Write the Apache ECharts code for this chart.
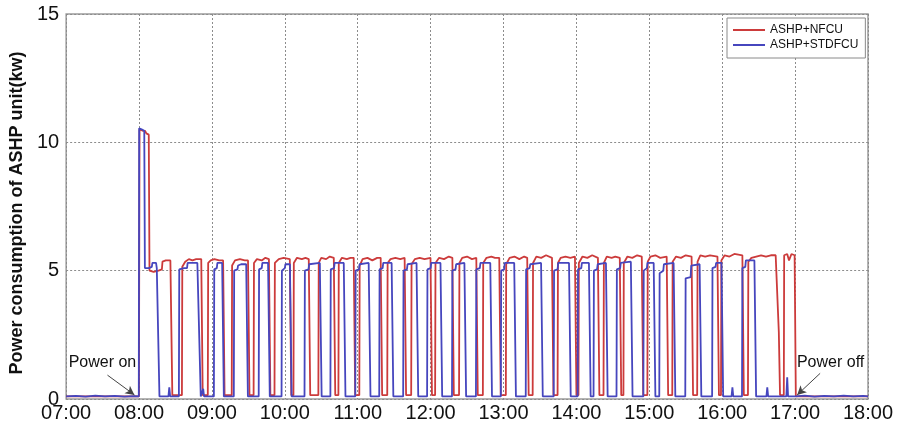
<!DOCTYPE html>
<html>
<head>
<meta charset="utf-8">
<script src="https://cdn.jsdelivr.net/npm/echarts@6/dist/echarts.min.js"></script>
<style>
  html, body { margin: 0; padding: 0; background: #fff; }
  #chart { width: 898px; height: 434px; }
</style>
</head>
<body>
<div id="chart"></div>
<script>
// Hour tick labels, one per 60 minutes from 07:00
const timeLabels = ['07:00', '08:00', '09:00', '10:00', '11:00', '12:00',
                    '13:00', '14:00', '15:00', '16:00', '17:00', '18:00'];
const powerTicks = [0, 5, 10, 15];

// ASHP+NFCU: [minutes after 07:00, kW]
const nfcuPoints = [
  [0, 0.1], [59.9, 0.1], [60.4, 10.5], [63, 10.45], [65, 10.45], [66, 10.35], [68, 10.3], [68.6, 5.0], [72, 4.95], [76, 5.0], [78.8, 5.05], [79.3, 5.35], [82, 5.4], [85.8, 5.4], [87.4, 0.15],
  [95.3, 0.15], [95.6, 5.15], [98, 5.35], [101, 5.45], [104, 5.4], [107, 5.45], [111.2, 5.45], [112.4, 0.15],
  [116.6, 0.15], [116.9, 5.3], [119, 5.4], [122, 5.45], [126, 5.4], [129.2, 5.4], [130.4, 0.15],
  [136.3, 0.15], [136.6, 5.2], [139, 5.4], [143, 5.45], [147, 5.4], [149.7, 5.4], [150.9, 0.15],
  [154.3, 0.15], [154.6, 5.3], [157, 5.45], [161, 5.4], [164, 5.5], [166.9, 5.45], [168.1, 0.15],
  [171.5, 0.15], [171.8, 5.3], [175, 5.45], [179, 5.5], [184.1, 5.45], [185.3, 0.15],
  [187.1, 0.15], [187.4, 5.3], [190, 5.5], [194, 5.45], [197, 5.5], [199.7, 5.45], [200.9, 0.15],
  [207.6, 0.15], [207.9, 5.3], [210, 5.5], [214, 5.45], [217, 5.55], [220.3, 5.5], [221.5, 0.15],
  [224.1, 0.15], [224.4, 5.3], [227, 5.5], [231, 5.45], [234, 5.5], [236.7, 5.5], [237.9, 0.15],
  [241.3, 0.15], [241.6, 5.2], [244, 5.45], [248, 5.5], [252, 5.4], [256, 5.5], [258.9, 5.5], [260.1, 0.15],
  [264.3, 0.15], [264.6, 5.3], [267, 5.45], [271, 5.5], [275, 5.45], [278.6, 5.5], [279.8, 0.15],
  [284, 0.15], [284.3, 5.25], [287, 5.45], [291, 5.5], [295, 5.45], [299.9, 5.5], [301.1, 0.15],
  [303.7, 0.15], [304, 5.3], [307, 5.5], [311, 5.45], [315, 5.55], [317.9, 5.5], [319.1, 0.15],
  [323.4, 0.15], [323.7, 5.3], [326, 5.5], [330, 5.55], [334, 5.45], [337.6, 5.5], [338.8, 0.15],
  [343, 0.15], [343.3, 5.3], [346, 5.5], [350, 5.55], [353, 5.5], [356.5, 5.5], [357.7, 0.15],
  [361.9, 0.15], [362.2, 5.25], [365, 5.5], [369, 5.55], [373, 5.45], [377, 5.55], [379.5, 5.5], [380.7, 0.15],
  [384, 0.15], [384.3, 5.3], [387, 5.55], [391, 5.5], [395, 5.6], [399.9, 5.5], [401.1, 0.15],
  [404.5, 0.15], [404.8, 5.3], [407, 5.5], [411, 5.55], [415, 5.5], [418.8, 5.55], [420, 0.15],
  [421.7, 0.15], [422, 5.3], [425, 5.55], [429, 5.5], [433, 5.6], [437.7, 5.5], [438.9, 0.15],
  [442.3, 0.15], [442.6, 5.3], [445, 5.55], [449, 5.5], [452, 5.55], [455.7, 5.5], [456.9, 0.15],
  [458.7, 0.15], [459, 5.3], [462, 5.55], [466, 5.5], [470, 5.6], [473.8, 5.55], [475, 0.15],
  [478.4, 0.15], [478.7, 5.35], [481, 5.55], [485, 5.6], [489, 5.5], [494.3, 5.55], [495.5, 0.15],
  [498.9, 0.15], [499.2, 5.35], [502, 5.55], [506, 5.5], [510, 5.6], [514.8, 5.55], [516, 0.15],
  [519.4, 0.15], [519.7, 5.35], [522, 5.6], [526, 5.55], [530, 5.6], [536.1, 5.55], [537.3, 0.15],
  [539, 0.15], [539.3, 5.4], [542, 5.6], [546, 5.55], [550, 5.65], [556.6, 5.6], [557.8, 0.15],
  [561.2, 0.15], [561.5, 5.35], [564, 5.5], [568, 5.55], [572, 5.6], [576, 5.55], [580, 5.6], [584, 5.6], [585.6, 5.55], [586.6, 2.6], [587.6, 0.15],
  [590.7, 0.15], [591, 5.6], [593.5, 5.65], [595, 5.4], [597, 5.65], [599.6, 5.6], [600.6, 0.1],
  [660, 0.1]
];

// ASHP+STDFCU: [minutes after 07:00, kW]
const stdPoints = [
  [0, 0.1], [8, 0.12], [16, 0.09], [24, 0.13], [32, 0.1], [40, 0.12], [48, 0.09], [56, 0.11], [59.8, 0.1],
  [60.1, 10.55], [62.5, 10.5], [64.3, 10.45], [64.8, 5.1], [68, 5.1], [70.5, 5.15], [71, 5.3], [74, 5.3], [74.6, 5.1], [76.8, 0.1],
  [84.2, 0.1], [84.9, 0.45], [85.6, 0.1],
  [92.8, 0.1], [93.1, 5.05], [97, 5.1], [99.5, 5.1], [100, 5.3], [108, 5.3], [109.5, 5.25], [110.8, 0.1],
  [112.1, 0.1], [112.8, 0.4], [113.5, 0.1],
  [121.6, 0.1], [121.9, 5.05], [124, 5.1], [124.5, 5.3], [128.4, 5.3], [129.8, 0.1],
  [138, 0.1], [138.3, 5.0], [141, 5.05], [141.5, 5.2], [144, 5.25], [148.2, 5.25], [149.6, 0.1],
  [158.5, 0.1], [158.8, 5.05], [161, 5.1], [161.5, 5.3], [166.2, 5.3], [167.6, 0.1],
  [177.3, 0.1], [177.6, 5.0], [180, 5.1], [180.5, 5.25], [184.2, 5.25], [185.6, 0.1],
  [196.2, 0.1], [196.5, 5.0], [199.5, 5.05], [200, 5.25], [208.8, 5.3], [210.3, 0.1],
  [217.5, 0.1], [217.8, 5.05], [220.5, 5.1], [221, 5.3], [228.5, 5.3], [229.9, 0.1],
  [238, 0.1], [238.3, 5.0], [241, 5.05], [241.5, 5.25], [249, 5.3], [250.5, 0.1],
  [257.7, 0.1], [258, 5.05], [260.5, 5.1], [261, 5.3], [267.9, 5.3], [269.3, 0.1],
  [277.4, 0.1], [277.7, 5.0], [280.5, 5.05], [281, 5.25], [288.4, 5.3], [289.8, 0.1],
  [297.1, 0.1], [297.4, 5.05], [300, 5.1], [300.5, 5.3], [308.1, 5.3], [309.5, 0.1],
  [317.6, 0.1], [317.9, 5.0], [320.5, 5.05], [321, 5.25], [327.8, 5.3], [329.2, 0.1],
  [337.3, 0.1], [337.6, 5.05], [340.5, 5.1], [341, 5.3], [349.1, 5.3], [350.5, 0.1],
  [357.8, 0.1], [358.1, 5.0], [360.5, 5.05], [361, 5.3], [368.8, 5.3], [370.2, 0.1],
  [378.3, 0.1], [378.6, 5.05], [381.5, 5.1], [382, 5.25], [390.9, 5.3], [392.3, 0.1],
  [401.3, 0.1], [401.6, 5.0], [404.5, 5.05], [405, 5.3], [413.9, 5.3], [415.3, 0.1],
  [421, 0.1], [421.3, 5.05], [424, 5.1], [424.5, 5.3], [430.3, 5.3], [431.7, 0.1],
  [434.1, 0.1], [434.4, 5.0], [437, 5.05], [437.5, 5.25], [444.3, 5.3], [445.7, 0.1],
  [453, 0.1], [453.3, 5.05], [456, 5.1], [456.5, 5.3], [464.8, 5.35], [466.2, 0.1],
  [475.1, 0.1], [475.4, 5.0], [478, 5.1], [478.5, 5.3], [483.6, 5.3], [485, 0.1],
  [488.2, 0.1], [488.5, 4.9], [491.5, 5.0], [492, 5.25], [500, 5.3], [501.4, 0.1],
  [509.6, 0.1], [509.9, 4.7], [514, 4.75], [514.5, 5.2], [521.4, 5.25], [522.8, 0.1],
  [531.7, 0.1], [532, 5.1], [534.5, 5.15], [535, 5.3], [539.4, 5.3], [540.8, 0.1],
  [547.7, 0.1], [548.4, 0.45], [549.1, 0.1],
  [556.3, 0.1], [556.6, 5.1], [559, 5.15], [559.5, 5.4], [566.5, 5.4], [567.9, 0.1],
  [576.4, 0.1], [577.1, 0.45], [577.8, 0.1],
  [592.8, 0.1], [593.5, 0.85], [594.2, 0.1],
  [600, 0.1], [608, 0.13], [616, 0.09], [624, 0.12], [632, 0.1], [640, 0.13], [648, 0.1], [656, 0.12], [660, 0.1]
];

// Start/stop annotations: text anchor and arrow from -> to, in data coordinates
const powerOnNote = { text: 'Power on', at: [29.9, 1.42], from: [34, 0.93], to: [56.2, 0.16] };
const powerOffNote = { text: 'Power off', at: [629.2, 1.42], from: [620.6, 1.0], to: [601.7, 0.16] };

const FONT = '"Liberation Sans", Arial, Helvetica, sans-serif';
const RED = '#cc3b3b';
const BLUE = '#4646be';

const chart = echarts.init(document.getElementById('chart'), null, { renderer: 'canvas' });

function noteLabel(note) {
  return {
    coord: note.at,
    symbol: 'rect',
    symbolSize: 1,
    itemStyle: { color: 'rgba(0,0,0,0)' },
    label: {
      show: true,
      position: 'inside',
      formatter: note.text,
      color: '#111',
      fontSize: 16,
      fontFamily: FONT
    }
  };
}

function noteArrow(note) {
  return [{ coord: note.from }, { coord: note.to }];
}

chart.setOption({
  animation: false,
  backgroundColor: '#ffffff',
  grid: {
    left: 63.5, right: 30, top: 14, bottom: 35,
    show: true,
    borderColor: '#9c9c9c',
    borderWidth: 1.5,
    backgroundColor: '#ffffff'
  },
  legend: {
    orient: 'vertical',
    left: 727,
    top: 18,
    padding: [6, 7, 7, 6],
    itemGap: 3,
    itemWidth: 32,
    itemHeight: 2,
    icon: 'rect',
    borderColor: '#8a8a8a',
    borderWidth: 1,
    backgroundColor: '#ffffff',
    textStyle: { fontSize: 12, color: '#111', fontFamily: FONT, lineHeight: 12 },
    data: ['ASHP+NFCU', 'ASHP+STDFCU']
  },
  xAxis: {
    type: 'value',
    min: 0,
    max: 660,
    interval: 60,
    axisLine: { show: false },
    axisTick: { show: false },
    axisLabel: {
      margin: 4,
      fontSize: 20,
      color: '#111',
      fontFamily: FONT,
      formatter: v => timeLabels[Math.round(v / 60)]
    },
    splitLine: { show: true, lineStyle: { color: '#8c8c8c', width: 1, type: [2, 2] } }
  },
  yAxis: {
    type: 'value',
    min: 0,
    max: 15,
    interval: 5,
    name: 'Power consumption of ASHP unit(kw)',
    nameLocation: 'middle',
    nameGap: 39,
    nameTextStyle: { fontSize: 18, fontWeight: 'bold', color: '#111', fontFamily: FONT, padding: [0, 13, 0, 0] },
    axisLine: { show: false },
    axisTick: { show: false },
    axisLabel: {
      margin: 7,
      fontSize: 20,
      color: '#111',
      fontFamily: FONT,
      formatter: v => (powerTicks.indexOf(v) >= 0 ? String(v) : '')
    },
    splitLine: { show: true, lineStyle: { color: '#8c8c8c', width: 1, type: [2, 2] } }
  },
  series: [
    {
      name: 'ASHP+NFCU',
      type: 'line',
      data: nfcuPoints,
      symbol: 'none',
      showSymbol: false,
      lineStyle: { color: RED, width: 1.8 },
      itemStyle: { color: RED },
      z: 2
    },
    {
      name: 'ASHP+STDFCU',
      type: 'line',
      data: stdPoints,
      symbol: 'none',
      showSymbol: false,
      lineStyle: { color: BLUE, width: 1.8 },
      itemStyle: { color: BLUE },
      z: 3,
      markLine: {
        silent: true,
        symbol: ['none', 'arrow'],
        symbolSize: [7, 9],
        label: { show: false },
        lineStyle: { color: '#444', width: 1, type: 'solid' },
        itemStyle: { color: '#111' },
        data: [noteArrow(powerOnNote), noteArrow(powerOffNote)]
      },
      markPoint: {
        silent: true,
        data: [noteLabel(powerOnNote), noteLabel(powerOffNote)]
      }
    }
  ]
});
</script>
</body>
</html>
